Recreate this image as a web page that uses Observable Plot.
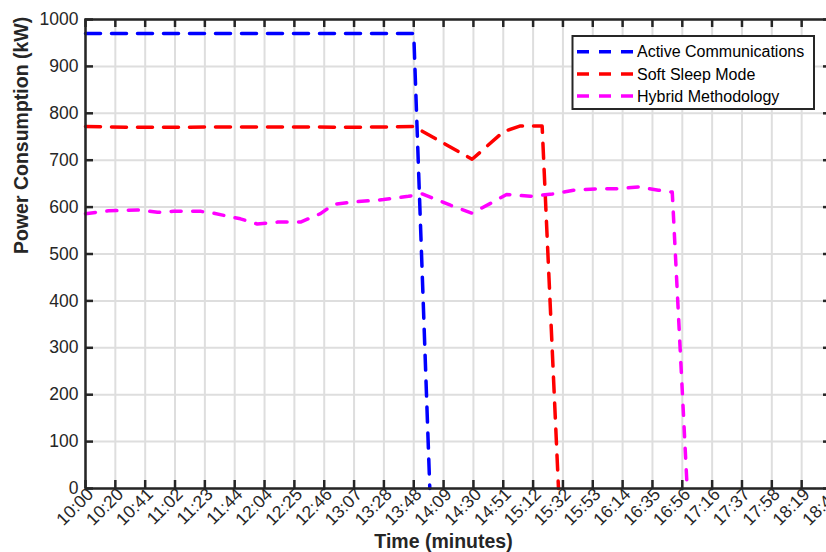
<!DOCTYPE html>
<html>
<head>
<meta charset="utf-8">
<script src="https://cdn.jsdelivr.net/npm/d3@7"></script>
<script src="https://cdn.jsdelivr.net/npm/@observablehq/plot@0.6"></script>
<style>
html, body { margin: 0; padding: 0; background: #ffffff; overflow: hidden; }
#chart { width: 826px; height: 552px; position: relative; }
</style>
</head>
<body>
<div id="chart"></div>
<script>
// ---- Data (minutes after 10:00, power in kW) ----
const xTicks = [0, 20.8, 41.6, 62.4, 83.2, 104, 124.8, 145.6, 166.4, 187.2, 208, 228.8, 249.6, 270.4, 291.2, 312, 332.8, 353.6, 374.4, 395.2, 416, 436.8, 457.6, 478.4, 499.2, 520];
const xTickLabels = ["10:00","10:20","10:41","11:02","11:23","11:44","12:04","12:25","12:46","13:07","13:28","13:48","14:09","14:30","14:51","15:12","15:32","15:53","16:14","16:35","16:56","17:16","17:37","17:58","18:19","18:40"];
const yTicks = [0, 100, 200, 300, 400, 500, 600, 700, 800, 900, 1000];

const seriesNames = ["Active Communications", "Soft Sleep Mode", "Hybrid Methodology"];
const seriesColors = ["#0000ff", "#ff0000", "#ff00ff"];

const activeMinutes = [0, 228.8, 240.0];
const activePower   = [970, 970, 0];

const softMinutes = [0, 30, 60, 90, 120, 150, 180, 210, 228.8, 269.5, 291.4, 303.2, 318.3, 329.7];
const softPower   = [772, 770, 770, 771, 771, 771, 770, 771, 772, 702, 761, 773, 773, 0];

const hybridMinutes = [0, 16, 36.2, 50.2, 61.3, 80.2, 89.2, 108, 119.7, 133.8, 149.9, 163.8, 172.9, 186.8, 207.7, 225.1, 234.7, 254.4, 269.5, 282.3, 293.5, 310.2, 325.5, 340.2, 356.2, 370.8, 385.5, 399.4, 409.0, 419.4];
const hybridPower   = [586, 592, 594, 589, 591, 591, 587, 575, 564, 568, 568, 586, 606, 611, 616, 623, 628, 604, 587, 608, 627, 623, 628, 636, 639, 639, 643, 636, 632, 0];

const xLabel = "Time (minutes)";
const yLabel = "Power Consumption (kW)";

// ---- Build tables ----
const toRows = (mins, vals) => mins.map((m, i) => ({minute: m, power: vals[i]}));
const activeRows = toRows(activeMinutes, activePower);
const softRows = toRows(softMinutes, softPower);
const hybridRows = toRows(hybridMinutes, hybridPower);

const W = 826, H = 552;
const mL = 85, mR = -5, mT = 19, mB = 64;
const innerW = W - mL - mR, innerH = H - mT - mB;
const axisColor = "#262626";
const gridColor = "#dedede";
const font = "'Liberation Sans', Arial, Helvetica, sans-serif";

const chart = Plot.plot({
  width: W,
  height: H,
  marginLeft: mL,
  marginRight: mR,
  marginTop: mT,
  marginBottom: mB,
  style: {fontFamily: font, fontSize: "17.5px", color: axisColor, background: "#ffffff", overflow: "hidden"},
  x: {domain: [0, 520]},
  y: {domain: [0, 1000]},
  marks: [
    Plot.ruleX(xTicks, {x: d => d, stroke: gridColor, strokeWidth: 2}),
    Plot.ruleY(yTicks, {y: d => d, stroke: gridColor, strokeWidth: 2}),
    Plot.line(activeRows, {x: "minute", y: "power", stroke: seriesColors[0], strokeWidth: 3.5, strokeDasharray: "15,11", strokeLinejoin: "round"}),
    Plot.line(softRows, {x: "minute", y: "power", stroke: seriesColors[1], strokeWidth: 3.5, strokeDasharray: "15,11", strokeLinejoin: "round"}),
    Plot.line(hybridRows, {x: "minute", y: "power", stroke: seriesColors[2], strokeWidth: 3.5, strokeDasharray: "10,11.5", strokeLinejoin: "round"}),
    Plot.frame({stroke: axisColor, strokeWidth: 2.5}),
    Plot.tickX(xTicks, {x: d => d, stroke: axisColor, strokeWidth: 2.5, insetTop: innerH - 8}),
    Plot.tickX(xTicks, {x: d => d, stroke: axisColor, strokeWidth: 2.5, insetBottom: innerH - 8}),
    Plot.tickY(yTicks, {y: d => d, stroke: axisColor, strokeWidth: 2.5, insetRight: innerW - 8}),
    Plot.tickY(yTicks, {y: d => d, stroke: axisColor, strokeWidth: 2.5, insetLeft: innerW - 8}),
    Plot.axisX(xTicks, {
      tickFormat: d => xTickLabels[xTicks.indexOf(d)],
      tickRotate: -45, tickSize: 0, tickPadding: 3, dx: 5,
      fontSize: 17.5, label: null, fill: axisColor
    }),
    Plot.axisY(yTicks, {tickFormat: d => String(d), tickSize: 0, tickPadding: 7, fontSize: 17.5, label: null, fill: axisColor}),
    Plot.text([xLabel], {frameAnchor: "bottom", text: d => d, dy: 53, dx: -15, fontWeight: "bold", fontSize: 19.5, lineAnchor: "middle", fill: axisColor}),
    Plot.text([yLabel], {frameAnchor: "left", text: d => d, rotate: -90, dx: -64, fontWeight: "bold", fontSize: 19.5, lineAnchor: "middle", fill: axisColor})
  ]
});

document.getElementById("chart").appendChild(chart);

// ---- Legend (inside the axes, top right) ----
const svg = d3.select(chart);
const lg = svg.append("g").attr("class", "legend");
lg.append("rect")
  .attr("x", 572.5).attr("y", 36).attr("width", 241.5).attr("height", 73)
  .attr("fill", "#ffffff").attr("stroke", axisColor).attr("stroke-width", 2);
seriesNames.forEach((name, i) => {
  const yy = 51.7 + i * 22.2;
  lg.append("line")
    .attr("x1", 577).attr("x2", 633).attr("y1", yy).attr("y2", yy)
    .attr("stroke", seriesColors[i]).attr("stroke-width", 3.5)
    .attr("stroke-dasharray", "12,10");
  lg.append("text")
    .attr("x", 637).attr("y", yy).attr("dy", "0.35em")
    .attr("text-anchor", "start")
    .attr("font-family", font).attr("font-size", 16)
    .attr("fill", "#000000")
    .text(name);
});
</script>
</body>
</html>
